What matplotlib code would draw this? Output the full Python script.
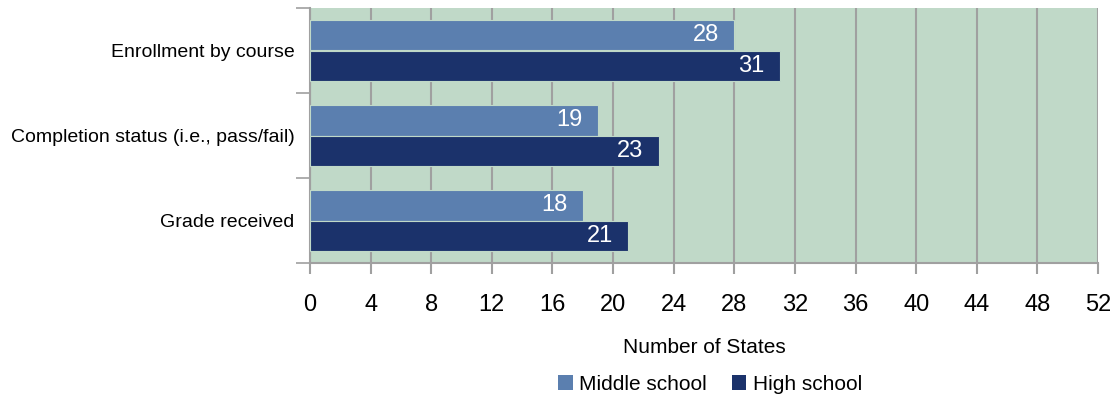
import matplotlib
matplotlib.use("Agg")
import matplotlib.pyplot as plt
import numpy as np
from matplotlib.patches import Patch

categories = ["Enrollment by course", "Completion status (i.e., pass/fail)", "Grade received"]
middle = [28, 19, 18]
high = [31, 23, 21]
xticks = list(range(0, 53, 4))

plt.rcParams['font.family'] = ['Liberation Sans', 'DejaVu Sans']

fig = plt.figure(figsize=(11.15, 4.0), dpi=100)
ax = fig.add_axes([310/1115, 1-263/400, (1098-310)/1115, (263-8)/400])
ax.set_facecolor('#C0D9C8')

c_mid = '#5B7FAF'
c_high = '#1B326B'
h = 0.355
y = np.arange(len(categories))
ax.barh(y - h/2, middle, height=h, color=c_mid, edgecolor='#C0D9C8', linewidth=0.8, zorder=3)
ax.barh(y + h/2, high, height=h, color=c_high, edgecolor='#C0D9C8', linewidth=0.8, zorder=3)

for yi, v in zip(y - h/2, middle):
    ax.text(v - 1.0, yi, str(v), color='white', ha='right', va='center', fontsize=17, zorder=4)
for yi, v in zip(y + h/2, high):
    ax.text(v - 1.0, yi, str(v), color='white', ha='right', va='center', fontsize=17, zorder=4)

ax.set_xlim(0, 52)
ax.set_ylim(len(categories) - 0.5, -0.5)
ax.set_xticks(xticks)
ax.set_xticklabels([str(t) for t in xticks], fontsize=17)
ax.xaxis.grid(True, color='#A0A0A0', linewidth=1.5, zorder=1)
ax.set_axisbelow(True)

ax.set_yticks(y)
ax.set_yticklabels(categories, fontsize=14)
ax.tick_params(axis='y', length=0, pad=11)
ax.set_yticks(np.arange(-0.5, len(categories) + 0.5, 1), minor=True)
ax.tick_params(axis='y', which='minor', length=10, color='#A0A0A0', width=1.2)
ax.tick_params(axis='x', length=8, color='#A0A0A0', width=1.5, pad=14)

for s in ['top', 'right']:
    ax.spines[s].set_visible(False)
for s in ['left', 'bottom']:
    ax.spines[s].set_color('#A0A0A0')
    ax.spines[s].set_linewidth(1.5)

ax.set_xlabel("Number of States", fontsize=15, labelpad=16)

handles = [Patch(facecolor=c_mid, label='Middle school'), Patch(facecolor=c_high, label='High school')]
fig.legend(handles=handles, loc='center', bbox_to_anchor=(710/1115, 1-384/400), ncol=2,
           frameon=False, fontsize=15, handlelength=0.7, handleheight=0.7, handletextpad=0.3,
           columnspacing=1.2)

fig.savefig("out.png", dpi=100)
